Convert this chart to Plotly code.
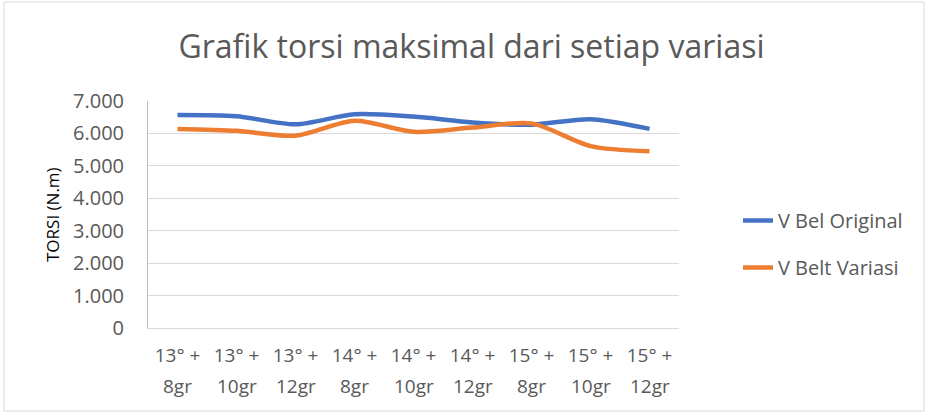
import plotly.graph_objects as go

categories = ["13° + 8gr", "13° + 10gr", "13° + 12gr",
              "14° + 8gr", "14° + 10gr", "14° + 12gr",
              "15° + 8gr", "15° + 10gr", "15° + 12gr"]
tick_line1 = ["13° +", "13° +", "13° +", "14° +", "14° +", "14° +", "15° +", "15° +", "15° +"]
tick_line2 = ["8gr", "10gr", "12gr", "8gr", "10gr", "12gr", "8gr", "10gr", "12gr"]
v_bel_original = [6.57, 6.53, 6.28, 6.59, 6.52, 6.34, 6.27, 6.44, 6.14]
v_belt_variasi = [6.14, 6.08, 5.93, 6.39, 6.05, 6.18, 6.31, 5.61, 5.45]
y_tick_vals = [0, 1, 2, 3, 4, 5, 6, 7]
y_tick_text = ["0", "1.000", "2.000", "3.000", "4.000", "5.000", "6.000", "7.000"]

W, H = 928, 414
ML, MR, MT, MB = 148, 928 - 679, 101, 414 - 328
pw, ph = W - ML - MR, H - MT - MB

def px_x(p):
    return (p - ML) / pw

def px_y(p):
    return (H - MB - p) / ph

FONT = "Open Sans"
GREY = "#595959"
n = len(categories)

fig = go.Figure()
fig.add_trace(go.Scatter(x=categories, y=v_bel_original, name="V Bel Original",
                         mode="lines", line=dict(color="#4472C4", width=4.5, shape="spline", smoothing=0.8),
                         legendgroup="a"))
fig.add_trace(go.Scatter(x=categories, y=v_belt_variasi, name="V Belt Variasi",
                         mode="lines", line=dict(color="#ED7D31", width=4.5, shape="spline", smoothing=0.8),
                         legendgroup="b"))

annotations = [dict(text="TORSI (N.m)", textangle=-90, x=px_x(52), y=px_y(215),
                    xref="paper", yref="paper", xanchor="center", yanchor="middle",
                    showarrow=False, font=dict(family=FONT, size=17, color="#000000"))]
for cat, lab in zip(categories, tick_line2):
    annotations.append(dict(text=lab, x=cat, xref="x", y=px_y(386), yref="paper",
                            xanchor="center", yanchor="middle", showarrow=False,
                            font=dict(family=FONT, size=19, color=GREY)))

fig.update_layout(
    width=W, height=H,
    margin=dict(l=ML, r=MR, t=MT, b=MB, autoexpand=False),
    paper_bgcolor="white", plot_bgcolor="white",
    font=dict(family=FONT, color=GREY),
    title=dict(text="Grafik torsi maksimal dari setiap variasi",
               font=dict(family=FONT, size=32, color=GREY),
               x=px_x(471.5), xref="paper", xanchor="center",
               y=1 - 47 / H, yref="container", yanchor="middle"),
    showlegend=True,
    legend=dict(x=px_x(738), xanchor="left", y=px_y(201), yanchor="top",
                font=dict(family=FONT, size=20, color=GREY),
                tracegroupgap=18, traceorder="grouped", bgcolor="rgba(0,0,0,0)"),
    xaxis=dict(type="category", range=[-0.5, n - 0.5], automargin=False,
               tickvals=categories, ticktext=tick_line1,
               showgrid=False, showline=True, linecolor="#D9D9D9", linewidth=1,
               ticks="", tickfont=dict(family=FONT, size=19, color=GREY),
               ticklabelstandoff=10, fixedrange=True),
    yaxis=dict(range=[0, 7], tickvals=y_tick_vals, ticktext=y_tick_text, automargin=False,
               showgrid=True, gridcolor="#D9D9D9", gridwidth=1,
               showline=True, linecolor="#BFBFBF", linewidth=1, zeroline=False,
               ticks="", tickfont=dict(family=FONT, size=20, color=GREY),
               ticklabelstandoff=19, fixedrange=True),
    annotations=annotations,
    shapes=[dict(type="rect", xref="paper", yref="paper",
                 x0=px_x(4), x1=px_x(924), y0=px_y(411), y1=px_y(2),
                 line=dict(color="#D9D9D9", width=1), layer="below")],
)

fig.write_html("out.html", config={"displayModeBar": False},
               post_script="document.body.style.margin='0';")
